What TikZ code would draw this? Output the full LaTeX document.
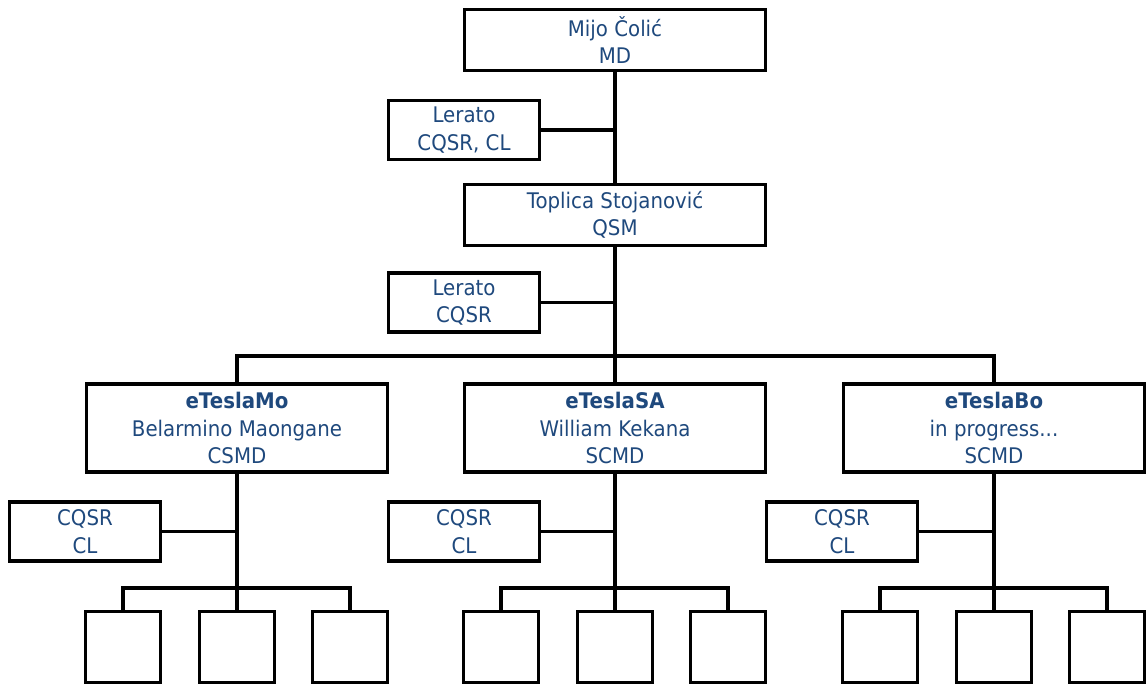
\documentclass[tikz,border=0pt]{standalone}
\usepackage{fontspec}
\setmainfont{DejaVu Sans}[FakeStretch=0.92]
\definecolor{txt}{RGB}{31,73,125}
\begin{document}
\begin{tikzpicture}[x=1pt,y=-1pt,
  box/.style={draw=black,line width=3.2pt,fill=white,inner sep=0pt,outer sep=0pt,align=center,text=txt,font=\fontsize{21.5}{27.5}\selectfont},
  wide/.style={box,minimum width=301pt,minimum height=61pt},
  mid/.style={box,minimum width=301pt,minimum height=88pt},
  side/.style={box,minimum width=151pt,minimum height=59pt},
  leaf/.style={box,minimum width=75pt,minimum height=71pt},
  conn/.style={line width=3.2pt}]
\useasboundingbox (0,0) rectangle (1148,684);

% top levels
\node[wide] (md) at (615,40) {Mijo Čolić\\MD};
\node[side] (ler1) at (464,130) {Lerato\\CQSR, CL};
\node[wide] (qsm) at (615,215) {Toplica Stojanović\\QSM};
\node[side] (ler2) at (464,302.5) {Lerato\\CQSR};

% level boxes
\node[mid] (mo) at (237,428) {\textbf{eTeslaMo}\\Belarmino Maongane\\CSMD};
\node[mid] (sa) at (615,428) {\textbf{eTeslaSA}\\William Kekana\\SCMD};
\node[mid] (bo) at (994,428) {\textbf{eTeslaBo}\\in progress...\\SCMD};

% side boxes
\node[side] (moq) at (85,531.5) {CQSR\\CL};
\node[side] (saq) at (464,531.5) {CQSR\\CL};
\node[side] (boq) at (842,531.5) {CQSR\\CL};

% leaves
\node[leaf] (mo1) at (123,647) {};
\node[leaf] (mo2) at (237,647) {};
\node[leaf] (mo3) at (350,647) {};
\node[leaf] (sa1) at (501,647) {};
\node[leaf] (sa2) at (615,647) {};
\node[leaf] (sa3) at (728,647) {};
\node[leaf] (bo1) at (880,647) {};
\node[leaf] (bo2) at (994,647) {};
\node[leaf] (bo3) at (1107,647) {};

% bus coordinates
\coordinate (bus) at (615,356);
\coordinate (mobus) at (237,588);
\coordinate (sabus) at (615,588);
\coordinate (bobus) at (994,588);

% connectors
\draw[conn] (md.south) -- (qsm.north);
\draw[conn] (ler1.east) -- (ler1.east -| md.south);
\draw[conn] (qsm.south) -- (bus);
\draw[conn] (ler2.east) -- (ler2.east -| qsm.south);
\draw[conn] (mo.north) -- (mo.north |- bus) -- (bo.north |- bus) -- (bo.north);
\draw[conn] (bus) -- (sa.north);

\draw[conn] (mo.south) -- (mo2.north);
\draw[conn] (moq.east) -- (moq.east -| mo.south);
\draw[conn] (mo1.north) -- (mo1.north |- mobus) -- (mo3.north |- mobus) -- (mo3.north);

\draw[conn] (sa.south) -- (sa2.north);
\draw[conn] (saq.east) -- (saq.east -| sa.south);
\draw[conn] (sa1.north) -- (sa1.north |- sabus) -- (sa3.north |- sabus) -- (sa3.north);

\draw[conn] (bo.south) -- (bo2.north);
\draw[conn] (boq.east) -- (boq.east -| bo.south);
\draw[conn] (bo1.north) -- (bo1.north |- bobus) -- (bo3.north |- bobus) -- (bo3.north);
\end{tikzpicture}
\end{document}
